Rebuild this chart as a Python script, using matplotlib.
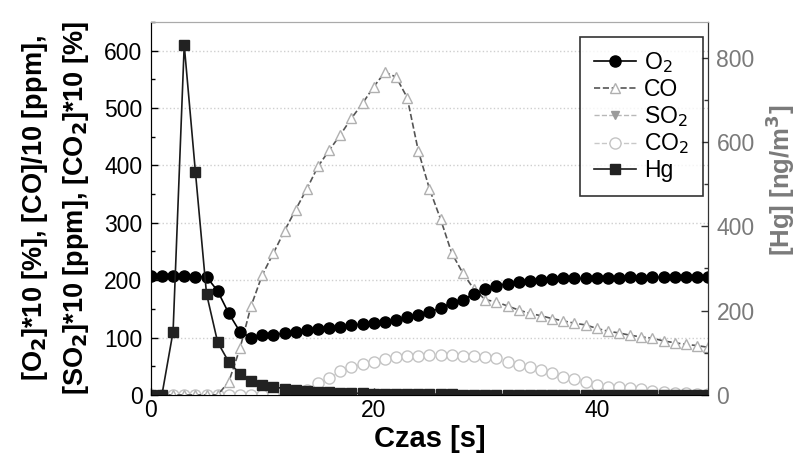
import matplotlib
matplotlib.use('Agg')
import matplotlib.pyplot as plt
from matplotlib.ticker import MultipleLocator

plt.rcParams['font.family'] = ['Liberation Sans', 'DejaVu Sans']

# czas [s]
t = list(range(0, 51))

o2 = [207, 207, 207, 207, 206, 206, 181, 142, 110, 100, 104, 104, 108, 110, 114,
      115, 116, 119, 122, 123, 125, 127, 130, 135, 139, 145, 151, 161, 166, 176,
      184, 190, 194, 197, 199, 201, 202, 203, 203, 203, 203, 203, 204, 205, 204,
      205, 205, 205, 205, 205, 205]
co = [0, 0, 0, 0, 0, 0, 0, 23, 81, 155, 209, 247, 286, 323, 359,
      398, 426, 453, 482, 508, 537, 562, 554, 518, 425, 359, 306, 247, 212, 184,
      166, 162, 155, 148, 142, 138, 133, 129, 125, 122, 116, 111, 108, 104, 101,
      99, 94, 91, 88, 86, 83]
so2 = [0] * 51
co2 = [0, 0, 0, 0, 0, 0, 0, 0, 0, 0, 0, 0, 0, 0, 9,
       20, 29, 41, 48, 54, 58, 62, 66, 67, 68, 70, 70, 70, 68, 67,
       66, 64, 58, 53, 48, 43, 38, 32, 27, 23, 17, 14, 13, 12, 10,
       7, 5, 4, 3, 2, 1]
hg = [0, 0, 150, 830, 530, 240, 125, 78, 50, 33, 24, 19, 15, 12, 9,
      8, 6, 5, 4, 4, 3, 3, 3, 3, 3, 2, 2, 2, 1, 1,
      1, 1, 1, 1, 1, 1, 1, 1, 1, 1, 1, 0, 0, 0, 0,
      0, 0, 0, 0, 0, 0]

fig = plt.figure(figsize=(8.02, 4.55), dpi=100)
ax = fig.add_axes([0.188, 0.132, 0.695, 0.820])
ax2 = ax.twinx()

so2_line, = ax.plot(t, so2, ls='--', color='#b8b8b8', lw=1, marker='v', ms=6,
                    mfc='#9a9a9a', mec='#9a9a9a', zorder=2)
co2_line, = ax.plot(t, co2, ls='--', color='#c8c8c8', lw=1, marker='o', ms=8,
                    mfc='white', mec='#c4c4c4', zorder=3)
co_line, = ax.plot(t, co, ls='--', color='#555555', lw=1.2, marker='^', ms=6.5,
                   mfc='white', mec='#b0b0b0', zorder=4)
o2_line, = ax.plot(t, o2, ls='-', color='black', lw=1.2, marker='o', ms=8,
                   mfc='black', mec='black', zorder=5)
hg_line, = ax2.plot(t, hg, ls='-', color='#1a1a1a', lw=1.2, marker='s', ms=7,
                    mfc='#222222', mec='#222222')

ax.set_xlim(0, 50)
ax.set_ylim(0, 650)
ax2.set_ylim(0, 885)

ax.xaxis.set_major_locator(MultipleLocator(20))
ax.yaxis.set_major_locator(MultipleLocator(100))
ax.yaxis.set_minor_locator(MultipleLocator(50))
ax2.yaxis.set_major_locator(MultipleLocator(200))
ax2.yaxis.set_minor_locator(MultipleLocator(100))

ax.tick_params(axis='both', which='both', direction='in', labelsize=16.5, width=1)
ax.tick_params(axis='both', which='major', length=5)
ax.tick_params(axis='y', which='minor', length=3)
ax.tick_params(axis='y', pad=6)
ax.tick_params(axis='x', pad=3)
ax2.tick_params(axis='y', which='both', direction='in', labelsize=16.5,
                color='#333333', labelcolor='#7a7a7a', width=1, pad=6)
ax2.tick_params(axis='y', which='major', length=5)
ax2.tick_params(axis='y', which='minor', length=3)

ax.yaxis.grid(True, ls=':', color='#cfcfcf', lw=1)
ax.set_axisbelow(True)

ax.spines['top'].set_color('#aaaaaa')
ax2.spines['top'].set_color('#aaaaaa')
for s in ['left', 'bottom']:
    ax.spines[s].set_color('#333333')
ax2.spines['right'].set_color('#333333')

ax.set_xlabel('Czas [s]', fontsize=21, fontweight='bold', labelpad=2)
ax.set_ylabel('[O$_\\mathbf{2}$]*10 [%], [CO]/10 [ppm],\n[SO$_\\mathbf{2}$]*10 [ppm], [CO$_\\mathbf{2}$]*10 [%]',
              fontsize=19.5, fontweight='bold', linespacing=1.5)
ax.yaxis.set_label_coords(-0.108, 0.5)
ax2.set_ylabel('[Hg] [ng/m$^\\mathbf{3}$]', fontsize=18.5, fontweight='bold',
               color='#7a7a7a')
ax2.yaxis.set_label_coords(1.1, 0.575)

leg = ax2.legend([o2_line, co_line, so2_line, co2_line, hg_line],
                 ['O$_2$', 'CO', 'SO$_2$', 'CO$_2$', 'Hg'],
                 loc='upper right', fontsize=16.5, frameon=True, fancybox=False,
                 edgecolor='black', handlelength=1.85, handletextpad=0.35,
                 labelspacing=0.12, borderpad=0.6, borderaxespad=0,
                 bbox_to_anchor=(0.991, 0.96))
leg.get_frame().set_linewidth(1.2)

fig.savefig('out.png', dpi=100)
